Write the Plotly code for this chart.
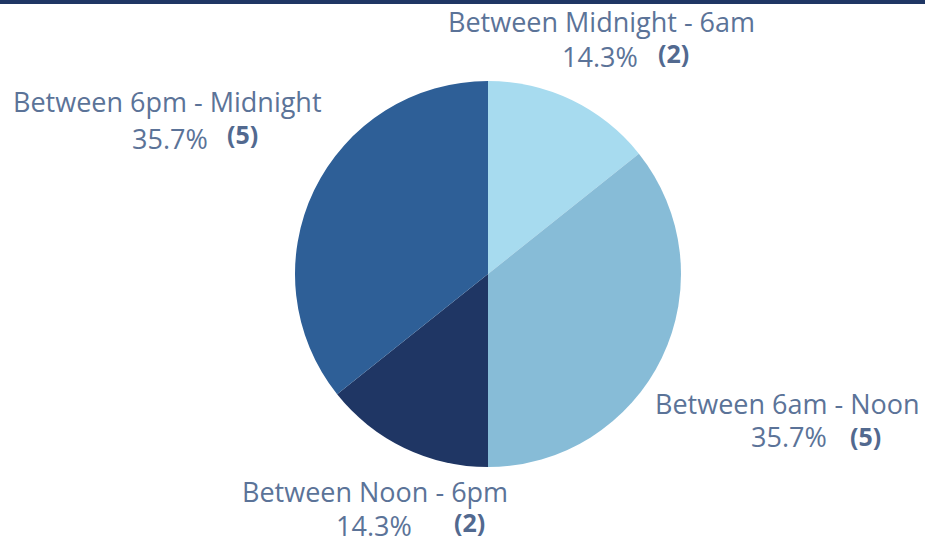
import plotly.graph_objects as go

labels = ["Between Midnight - 6am", "Between 6am - Noon", "Between Noon - 6pm", "Between 6pm - Midnight"]
counts = [2, 5, 2, 5]
colors = ["#a7dbef", "#87bcd7", "#1f3664", "#2e5f97"]

W, H = 925, 539
# label anchor positions in pixels (label line, percent, count)
label_pos = [(601, 21), (787, 403), (375, 491), (167, 102)]
pct_pos = [(600, 57), (789, 436), (374, 525), (170, 139)]
cnt_pos = [(673, 53), (865, 436), (469, 522), (243, 134)]

total = sum(counts)
txt_color = "#5b7398"
font_family = "Open Sans, Noto Sans, sans-serif"
fs = 27

fig = go.Figure(go.Pie(
    labels=labels, values=counts, sort=False, direction="clockwise", rotation=0,
    marker=dict(colors=colors, line=dict(width=0)), textinfo="none", hoverinfo="label+percent+value",
    domain=dict(x=[(488 - 193) / W, (488 + 193) / W], y=[(539 - 274 - 193) / H, (539 - 274 + 193) / H]),
    showlegend=False,
))

def px(p):
    return p[0] / W, 1 - p[1] / H

anns = []
for i, lab in enumerate(labels):
    x, y = px(label_pos[i])
    anns.append(dict(x=x, y=y, text=lab, showarrow=False, xref="paper", yref="paper",
                     xanchor="center", yanchor="middle", font=dict(size=fs, color=txt_color, family=font_family)))
    x, y = px(pct_pos[i])
    anns.append(dict(x=x, y=y, text=f"{counts[i] / total * 100:.1f}%", showarrow=False, xref="paper", yref="paper",
                     xanchor="center", yanchor="middle", font=dict(size=fs, color=txt_color, family=font_family)))
    x, y = px(cnt_pos[i])
    anns.append(dict(x=x, y=y, text=f"<b>({counts[i]})</b>", showarrow=False, xref="paper", yref="paper",
                     xanchor="center", yanchor="middle", font=dict(size=fs - 2, color="#52698f", family=font_family)))

fig.update_layout(
    width=W, height=H, margin=dict(l=0, r=0, t=0, b=0),
    paper_bgcolor="white", plot_bgcolor="white",
    annotations=anns,
    shapes=[dict(type="rect", xref="paper", yref="paper", x0=0, x1=1, y0=1 - 4 / H, y1=1,
                 fillcolor="#1f3664", line=dict(width=0))],
)
fig.write_html("out.html", config={"displayModeBar": False},
               post_script="document.body.style.margin='0';document.body.style.overflow='hidden';")
